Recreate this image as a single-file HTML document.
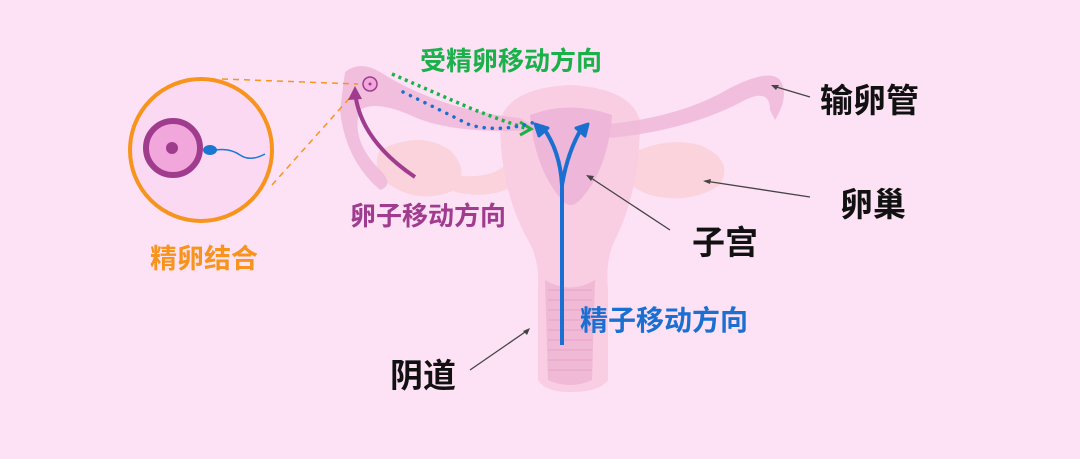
<!DOCTYPE html>
<html><head><meta charset="utf-8"><style>
body{margin:0;background:#fde2f6;}
svg{display:block;}
text{font-family:"Liberation Sans","Noto Sans CJK SC",sans-serif;font-weight:bold;}
</style></head><body>
<svg width="1080" height="459" viewBox="0 0 1080 459" xmlns="http://www.w3.org/2000/svg">
<rect width="1080" height="459" fill="#fde2f6"/>
<!-- ovaries -->
<path d="M380 150 Q420 130 450 150 Q470 170 455 190 Q420 205 390 185 Q370 170 380 150Z" fill="#fbd3dc"/>
<path d="M620 160 Q660 135 700 145 Q735 160 720 185 Q690 205 650 195 Q620 185 620 160Z" fill="#fbd3dc"/>
<path d="M450 175 Q490 180 505 165 L515 185 Q490 200 455 192Z" fill="#fbd3dc"/>
<path d="M625 170 Q600 175 590 165 L585 185 Q610 195 625 190Z" fill="#fbd3dc"/>
<!-- uterus outer -->
<path d="M500 120 Q510 88 570 85 Q630 88 640 120 Q640 190 615 240 Q605 260 608 290 L608 380 Q600 392 570 392 Q545 392 538 380 L538 290 Q540 260 528 240 Q500 190 500 120Z" fill="#f9cde2"/>
<!-- tubes -->
<path d="M345 72 Q360 60 380 72 Q440 110 520 118 L540 130 Q450 135 410 115 Q375 100 360 110 Q350 140 380 170 Q395 185 380 190 Q345 160 340 110 Z" fill="#efb8d8" opacity="0.85"/>
<path d="M600 125 Q680 118 730 88 Q770 68 780 80 Q790 95 775 120 L770 110 Q770 88 745 100 Q690 130 610 138Z" fill="#efb8d8" opacity="0.85"/>
<!-- inner cavity -->
<path d="M530 115 Q570 100 612 115 Q608 170 580 200 Q570 210 562 200 Q535 170 530 115Z" fill="#eeb6d8"/>
<path d="M545 280 Q570 295 595 280 L592 380 Q570 390 548 380Z" fill="#f0b9d6"/>
<g stroke="#e6a2c6" stroke-width="1">
<line x1="548" y1="290" x2="592" y2="290"/><line x1="548" y1="300" x2="592" y2="300"/><line x1="548" y1="310" x2="592" y2="310"/><line x1="548" y1="320" x2="592" y2="320"/><line x1="548" y1="330" x2="592" y2="330"/><line x1="548" y1="340" x2="592" y2="340"/><line x1="548" y1="350" x2="592" y2="350"/><line x1="548" y1="360" x2="592" y2="360"/><line x1="548" y1="370" x2="592" y2="370"/>
</g>
<!-- zoom circle -->
<line x1="222" y1="79" x2="358" y2="84" stroke="#f7941d" stroke-width="1.5" stroke-dasharray="6,5"/>
<line x1="272" y1="185" x2="355" y2="92" stroke="#f7941d" stroke-width="1.5" stroke-dasharray="6,5"/>
<circle cx="201" cy="150" r="71" fill="#fcd9f3" stroke="#f7941d" stroke-width="4"/>
<circle cx="173" cy="148" r="27" fill="#f2a7dc" stroke="#a03c8e" stroke-width="6"/>
<circle cx="172" cy="148" r="6" fill="#a03c8e"/>
<ellipse cx="210" cy="150" rx="7" ry="5" fill="#1b78d0"/>
<path d="M216 150 Q230 148 240 155 Q250 162 265 154" stroke="#1b78d0" stroke-width="1.5" fill="none"/>
<!-- egg in tube -->
<circle cx="370" cy="84" r="7" fill="#f2a7dc" stroke="#a03c8e" stroke-width="1.5"/>
<circle cx="370" cy="84" r="1.5" fill="#a03c8e"/>
<!-- egg path -->
<path d="M415 177 Q360 140 355 92" stroke="#a03c8e" stroke-width="4" fill="none"/>
<path d="M348 100 L355 86 L362 99Z" fill="#a03c8e"/>
<!-- dotted paths -->
<path d="M392 74 Q440 95 470 108 Q500 120 525 128" stroke="#1ab04a" stroke-width="3.5" stroke-dasharray="3,4" fill="none"/>
<path d="M520 122 L531 129 L520 135" stroke="#1ab04a" stroke-width="3" fill="none"/>
<path d="M403 92 Q440 110 470 125 Q500 133 535 122" stroke="#1b6fd0" stroke-width="3.5" stroke-dasharray="0.1,8" stroke-linecap="round" fill="none"/>
<!-- sperm path -->
<path d="M562 345 L562 185 Q560 150 542 126 M562 185 Q568 150 583 126" stroke="#1b6fd0" stroke-width="4" fill="none"/>
<path d="M535 124 L539 136 L548 128Z" fill="#1b6fd0" stroke="#1b6fd0" stroke-width="3" stroke-linejoin="round"/>
<path d="M588 124 L576 128 L585 136Z" fill="#1b6fd0" stroke="#1b6fd0" stroke-width="3" stroke-linejoin="round"/>
<!-- pointer lines -->
<g stroke="#444" stroke-width="1.3">
<line x1="810" y1="97" x2="773" y2="86"/><line x1="810" y1="197" x2="705" y2="181"/>
<line x1="670" y1="230" x2="588" y2="176"/><line x1="470" y1="370" x2="528" y2="330"/>
</g>
<g fill="#444"><path d="M771 85 l8 0 l-3 5z"/><path d="M703 181 l8 -2 l-1 5z"/><path d="M586 175 l8 1 l-3 5z"/><path d="M530 328 l-3 7 l-4 -4z"/></g>
<!-- labels -->
<text x="420" y="70" font-size="26" fill="#1ab04a">受精卵移动方向</text>
<text x="350" y="225" font-size="26" fill="#a03c8e">卵子移动方向</text>
<text x="150" y="268" font-size="27" fill="#f7941d">精卵结合</text>
<text x="580" y="330" font-size="28" fill="#1b6fd0">精子移动方向</text>
<text x="820" y="112" font-size="33" fill="#111">输卵管</text>
<text x="840" y="216" font-size="33" fill="#111">卵巢</text>
<text x="692" y="254" font-size="33" fill="#111">子宫</text>
<text x="390" y="387" font-size="33" fill="#111">阴道</text>
</svg>
</body></html>
